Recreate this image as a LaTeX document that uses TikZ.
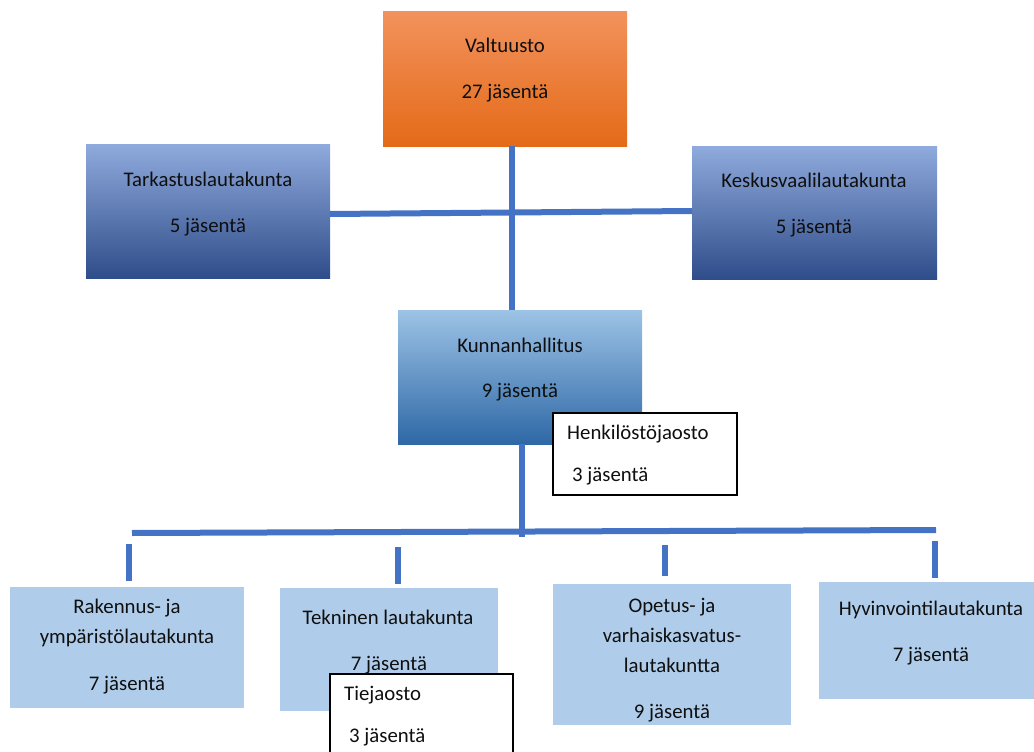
\documentclass[tikz,border=0pt]{standalone}
\usepackage{fontspec}
\setmainfont{Carlito}
\definecolor{lineblue}{RGB}{68,114,196}
\definecolor{orTop}{RGB}{242,146,92}
\definecolor{orMid}{RGB}{240,124,40}
\definecolor{orBot}{RGB}{228,106,24}
\definecolor{dbTop}{RGB}{143,170,220}
\definecolor{dbMid}{RGB}{72,116,196}
\definecolor{dbBot}{RGB}{47,77,138}
\definecolor{mbTop}{RGB}{157,195,230}
\definecolor{mbMid}{RGB}{92,152,210}
\definecolor{mbBot}{RGB}{46,104,166}
\definecolor{lbFill}{RGB}{175,205,234}
\definecolor{txtcol}{RGB}{15,15,15}
\begin{document}
\begin{tikzpicture}[x=1pt,y=-1pt,
  box/.style={draw=none,inner sep=0pt,outer sep=0pt,minimum width=#1},
  bh/.style={minimum height=#1},
  orangebox/.style={top color=orTop,middle color=orMid,bottom color=orBot},
  darkbox/.style={top color=dbTop,middle color=dbMid,bottom color=dbBot},
  midbox/.style={top color=mbTop,middle color=mbMid,bottom color=mbBot},
  lightbox/.style={fill=lbFill},
  subbox/.style={draw=black,line width=1.1pt,fill=white,inner sep=0pt,outer sep=0pt,minimum width=#1},
  conn/.style={draw=lineblue,line width=6pt},
  txt/.style={inner sep=0pt,text=txtcol,font=\fontsize{20.8}{25}\selectfont,text height=14pt,text depth=4pt},
  ltxt/.style={txt,anchor=west}
]
\useasboundingbox (0,0) rectangle (1034,752);
\clip (0,0) rectangle (1034,752);

% top level
\node[box=244,bh=134,orangebox] (valt) at (505,79) {};
\node[box=244,bh=134,darkbox] (tark) at (208,211) {};
\node[box=245,bh=133,darkbox] (kesk) at (814.5,212.5) {};
\node[box=244,bh=134,midbox] (kh) at (520,377) {};

% connectors top
\draw[conn] ([xshift=7pt]valt.south) -- ([xshift=-8pt]kh.north);
\draw[conn] ([yshift=-3pt]tark.east) -- ([yshift=1.5pt]kesk.west);

% bottom boxes
\node[box=234,bh=121,lightbox] (rak) at (127,647.5) {};
\node[box=218,bh=123,lightbox] (tek) at (389,649.5) {};
\node[box=238,bh=141,lightbox] (ope) at (672,654.5) {};
\node[box=217,bh=117,lightbox] (hyv) at (927.5,640.5) {};

% bus and stubs
\coordinate (busL) at (132,533);
\coordinate (busR) at (936,530);
\coordinate (busJ) at (522,537);
\draw[conn] ([xshift=2pt]kh.south) -- (busJ);
\draw[conn] (busL) -- (busR);
\coordinate (s1a) at (129,544); \coordinate (s1b) at (129,581);
\coordinate (s2a) at (398,547); \coordinate (s2b) at (398,584);
\coordinate (s3a) at (665,545); \coordinate (s3b) at (665,576);
\coordinate (s4a) at (935,541); \coordinate (s4b) at (935,578);
\draw[conn] (s1a) -- (s1b);
\draw[conn] (s2a) -- (s2b);
\draw[conn] (s3a) -- (s3b);
\draw[conn] (s4a) -- (s4b);

% sub-committees
\node[subbox=184,bh=82] (henk) at (645,454) {};
\node[subbox=183,bh=90] (tie) at (421.5,719) {};

% texts
\node[txt] (valtA) at (505,48) {Valtuusto};
\node[txt] (valtB) at (505,94) {27 jäsentä};
\node[txt] (tarkA) at (208,181) {Tarkastuslautakunta};
\node[txt] (tarkB) at (208,227) {5 jäsentä};
\node[txt] (keskA) at (814,182) {Keskusvaalilautakunta};
\node[txt] (keskB) at (814,228) {5 jäsentä};
\node[txt] (khA) at (520,347) {Kunnanhallitus};
\node[txt] (khB) at (520,392) {9 jäsentä};
\node[ltxt] (henkA) at (567,434) {Henkilöstöjaosto};
\node[ltxt] (henkB) at (572,476) {3 jäsentä};

\node[txt] (rakA) at (127,608) {Rakennus- ja};
\node[txt] (rakB) at (127,638) {ympäristölautakunta};
\node[txt] (rakC) at (127,685) {7 jäsentä};
\node[txt] (tekA) at (388,619) {Tekninen lautakunta};
\node[txt] (tekB) at (389,665) {7 jäsentä};
\node[ltxt] (tieA) at (344,695) {Tiejaosto};
\node[ltxt] (tieB) at (349,737) {3 jäsentä};
\node[txt] (opeA) at (672,607) {Opetus- ja};
\node[txt] (opeB) at (672,637) {varhaiskasvatus-};
\node[txt] (opeC) at (672,667) {lautakuntta};
\begin{scope}
\clip (ope.north west) rectangle (ope.south east);
\node[txt] (opeD) at (672,713) {9 jäsentä};
\end{scope}
\node[txt] (hyvA) at (931,610) {Hyvinvointilautakunta};
\node[txt] (hyvB) at (931,656) {7 jäsentä};
\end{tikzpicture}
\end{document}
